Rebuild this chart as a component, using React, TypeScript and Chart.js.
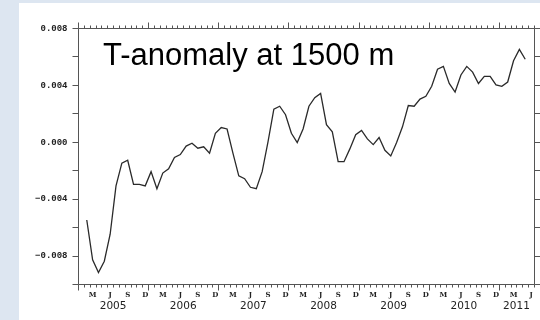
import React, { useEffect, useRef } from "react";
import { Chart, registerables } from "chart.js";

Chart.register(...registerables);

// ---- data ----
const startYear = 2005;
const firstMonthIndex = 1; // Feb 2005 (months counted from Jan 2005)
const anomaly = [
  -0.0055, -0.0083, -0.0092, -0.0084, -0.0065, -0.0031, -0.0015, -0.0013, -0.003, -0.003, -0.0031,
  -0.0021, -0.0033, -0.0022, -0.0019, -0.0011, -0.0009, -0.0003, -0.0001, -0.00045, -0.00035, -0.0008,
  0.0006, 0.001, 0.0009, -0.0008, -0.0024, -0.0026, -0.0032, -0.0033, -0.0021, 0.0, 0.0023, 0.0025,
  0.0019, 0.0006, -0.00005, 0.0009, 0.0025, 0.0031, 0.0034, 0.0012, 0.0007, -0.0014, -0.0014, -0.0005,
  0.0005, 0.0008, 0.0002, -0.0002, 0.0003, -0.0006, -0.001, -0.00005, 0.00105, 0.00255, 0.0025, 0.003,
  0.0032, 0.0039, 0.0051, 0.0053, 0.0041, 0.0035, 0.0047, 0.0053, 0.0049, 0.0041, 0.0046, 0.0046,
  0.004, 0.0039, 0.0042, 0.0057, 0.0065, 0.0058,
];
const xMin = 2005.0;
const xMax = 2011.5;
const yMin = -0.01;
const yMax = 0.008;
const yTickValues = [-0.01, -0.008, -0.006, -0.004, -0.002, 0, 0.002, 0.004, 0.006, 0.008];
const yLabelValues = [-0.008, -0.004, 0, 0.004, 0.008];
const yLabelTexts = ["\u22120.008", "\u22120.004", "0.000", "0.004", "0.008"];
const yearLabels = ["2005", "2006", "2007", "2008", "2009", "2010", "2011"];
const monthLetters = ["M", "J", "S", "D"];
const monthLetterIndex = [2, 5, 8, 11];
const titleText = "T-anomaly at 1500 m";

export default function App() {
  const canvasRef = useRef<HTMLCanvasElement | null>(null);

  useEffect(() => {
    const canvas = canvasRef.current;
    if (!canvas) return;

    const points = anomaly.map((v, k) => ({
      x: startYear + (firstMonthIndex + k + 0.5) / 12,
      y: v,
    }));

    const axesPlugin = {
      id: "gradsAxes",
      afterDraw(chart: any) {
        const ctx = chart.ctx as CanvasRenderingContext2D;
        const { left, right, top, bottom } = chart.chartArea;
        const xs = chart.scales.x;
        const ys = chart.scales.y;
        const L = Math.round(left) + 0.5;
        const R = Math.round(right) + 0.5;
        const T = Math.round(top) + 0.5;
        const B = Math.round(bottom) + 0.5;
        ctx.save();
        ctx.strokeStyle = "#555";
        ctx.lineWidth = 1;
        ctx.beginPath();
        ctx.moveTo(L, T);
        ctx.lineTo(R, T);
        ctx.lineTo(R, B);
        ctx.lineTo(L, B);
        ctx.closePath();
        ctx.stroke();

        // y ticks
        ctx.beginPath();
        yTickValues.forEach((v) => {
          const py = Math.round(ys.getPixelForValue(v)) + 0.5;
          ctx.moveTo(L - 6, py);
          ctx.lineTo(L, py);
          ctx.moveTo(R, py);
          ctx.lineTo(R + 6, py);
        });
        // x ticks (monthly minor, yearly major)
        const nMonths = Math.round((xMax - xMin) * 12);
        for (let m = 0; m <= nMonths; m++) {
          const val = xMin + m / 12;
          const px = Math.round(xs.getPixelForValue(val)) + 0.5;
          const len = m % 12 === 0 ? 6 : 3;
          ctx.moveTo(px, B);
          ctx.lineTo(px, B + len);
          ctx.moveTo(px, T - len);
          ctx.lineTo(px, T);
        }
        ctx.stroke();

        // y labels
        ctx.fillStyle = "#222";
        ctx.font = 'bold 9px "Liberation Mono"';
        ctx.textAlign = "right";
        ctx.textBaseline = "middle";
        yLabelValues.forEach((v, i) => {
          ctx.fillText(yLabelTexts[i], L - 11, ys.getPixelForValue(v) + 0.5);
        });

        // month letters
        ctx.font = 'bold 7px "DejaVu Serif"';
        ctx.textAlign = "center";
        ctx.textBaseline = "middle";
        yearLabels.forEach((yl, yi) => {
          const yr = startYear + yi;
          monthLetterIndex.forEach((mi, k) => {
            const val = yr + (mi + 0.5) / 12;
            if (val > xMax) return;
            ctx.fillText(monthLetters[k], xs.getPixelForValue(val), B + 11);
          });
        });

        // year labels
        ctx.font = '10.5px "DejaVu Sans"';
        yearLabels.forEach((yl, yi) => {
          const yr = startYear + yi;
          const a = Math.max(yr, xMin);
          const b = Math.min(yr + 1, xMax);
          ctx.fillText(yl, xs.getPixelForValue((a + b) / 2), B + 22);
        });

        // title
        ctx.fillStyle = "#000";
        ctx.font = '31px "Liberation Sans"';
        ctx.textAlign = "left";
        ctx.textBaseline = "alphabetic";
        ctx.fillText(titleText, 103, 65);
        ctx.restore();
      },
    };

    const chart = new Chart(canvas, {
      type: "line",
      data: {
        datasets: [
          {
            data: points,
            borderColor: "#2a2a2a",
            borderWidth: 1.3,
            pointRadius: 0,
            tension: 0,
            fill: false,
          },
        ],
      },
      options: {
        animation: false,
        responsive: false,
        devicePixelRatio: 1,
        layout: { padding: { left: 78, right: 6, top: 28, bottom: 36 } },
        plugins: { legend: { display: false }, tooltip: { enabled: false }, title: { display: false } },
        scales: {
          x: { type: "linear", min: xMin, max: xMax, display: false },
          y: { type: "linear", min: yMin, max: yMax, display: false },
        },
      },
      plugins: [axesPlugin],
    });
    return () => chart.destroy();
  }, []);

  return (
    <div style={{ position: "fixed", left: 0, top: 0, width: 540, height: 320, background: "#dde6f1", overflow: "hidden" }}>
      <div style={{ position: "absolute", left: 19, top: 3, right: 0, bottom: 0, background: "#ffffff" }} />
      <canvas ref={canvasRef} width={540} height={320} style={{ position: "absolute", left: 0, top: 0, width: 540, height: 320 }} />
    </div>
  );
}
